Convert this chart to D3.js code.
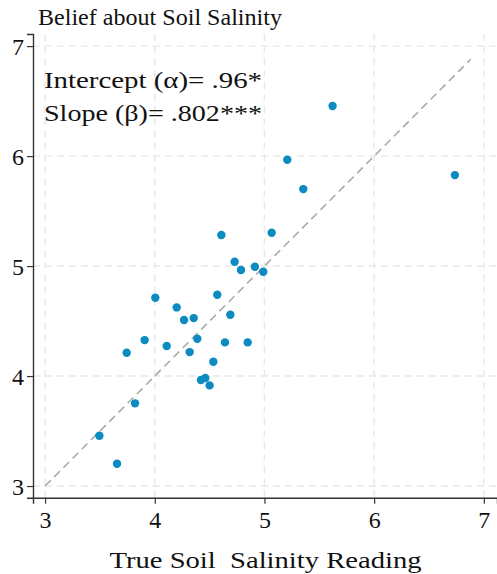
<!DOCTYPE html>
<html><head><meta charset="utf-8">
<script src="https://cdn.jsdelivr.net/npm/d3@7"></script>
<style>body{margin:0;background:#fff}svg{display:block}text{font-family:"Liberation Serif","DejaVu Serif",serif;fill:#111}</style>
</head><body>
<svg id="c" width="497" height="574"></svg>
<script>
const trueReading = [4.607,5.066,4.728,4.786,4.913,4.989,4.005,4.200,4.267,4.355,4.570,4.689,3.908,3.744,4.109,4.388,4.318,4.640,4.847,4.534,4.421,4.461,4.500,3.820,3.495,3.656,5.621,5.208,5.354,6.736];
const belief      = [5.282,5.303,5.039,4.964,4.994,4.948,4.712,4.624,4.509,4.527,4.739,4.557,4.327,4.212,4.273,4.339,4.218,4.306,4.306,4.130,3.964,3.982,3.915,3.752,3.457,3.203,6.455,5.966,5.700,5.827];
const xTicks = [3,4,5,6,7];
const yTicks = [3,4,5,6,7];
const refLine = [3, 6.88];
const title = "Belief about Soil Salinity";
const xTitle = "True Soil\u00a0\u00a0Salinity Reading";
const notes = ["Intercept (\u03b1)= .96*", "Slope (\u03b2)= .802***"];
const FONT = "Liberation Serif, DejaVu Serif, serif";

const svg = d3.select("#c");
const x = d3.scaleLinear().domain([2.89, 7.12]).range([33, 497]);
const y = d3.scaleLinear().domain([2.894, 7.11]).range([497.7, 34]);

const g = svg.append("g");
g.selectAll("line.gx").data(xTicks).join("line")
  .attr("x1", d => x(d)).attr("x2", d => x(d)).attr("y1", y.range()[1]).attr("y2", y.range()[0])
  .attr("stroke", "#e8e8e8").attr("stroke-width", 1.4).attr("stroke-dasharray", "7,5");
g.selectAll("line.gy").data(yTicks).join("line")
  .attr("y1", d => y(d)).attr("y2", d => y(d)).attr("x1", x.range()[0]).attr("x2", x.range()[1])
  .attr("stroke", "#e8e8e8").attr("stroke-width", 1.4).attr("stroke-dasharray", "7,5");

svg.append("line")
  .attr("x1", x(refLine[0])).attr("y1", y(refLine[0]))
  .attr("x2", x(refLine[1])).attr("y2", y(refLine[1]))
  .attr("stroke", "#aaaaaa").attr("stroke-width", 1.6).attr("stroke-dasharray", "8,5");

svg.append("g").selectAll("circle").data(trueReading.map((v,i)=>[v,belief[i]])).join("circle")
  .attr("cx", d => x(d[0])).attr("cy", d => y(d[1])).attr("r", 4.2)
  .attr("fill", "#0b8bbf");

const ax = svg.append("g").attr("transform", `translate(0,${y.range()[0]})`)
  .call(d3.axisBottom(x).tickValues(xTicks).tickFormat(d3.format("d")).tickSizeOuter(0).tickSize(6).tickPadding(8));
const ay = svg.append("g").attr("transform", `translate(${x.range()[0]},0)`)
  .call(d3.axisLeft(y).tickValues(yTicks).tickFormat(d3.format("d")).tickSizeOuter(0).tickSize(6).tickPadding(3));
[ax, ay].forEach(a => {
  a.attr("font-family", FONT);
  a.select(".domain").attr("stroke", "#333").attr("stroke-width", 1.4);
  a.selectAll(".tick line").attr("stroke", "#333").attr("stroke-width", 1.2);
  a.selectAll(".tick text").attr("font-size", 24).attr("font-family", FONT).attr("fill", "#111");
});
ay.selectAll(".tick text").attr("dy", "0.34em");
ax.selectAll(".tick text").attr("dy", "0.68em");

svg.append("text").attr("x", 38).attr("y", 25).attr("font-size", 23).attr("font-family", FONT)
  .attr("textLength", 244).attr("lengthAdjust", "spacingAndGlyphs").text(title);
svg.append("text").attr("x", 109.5).attr("y", 568).attr("font-size", 24).attr("font-family", FONT)
  .attr("textLength", 312).attr("lengthAdjust", "spacingAndGlyphs").text(xTitle);
svg.append("g").selectAll("text").data(notes).join("text")
  .attr("x", 44).attr("y", (d,i) => 88 + i*33).attr("font-size", 24).attr("font-family", FONT)
  .attr("textLength", 218).attr("lengthAdjust", "spacingAndGlyphs").text(d => d);
</script>
</body></html>
